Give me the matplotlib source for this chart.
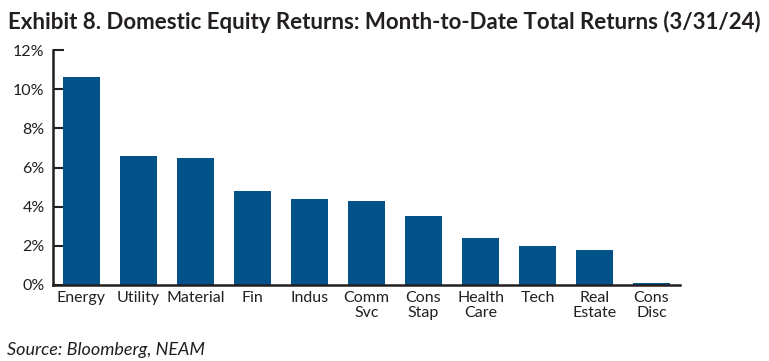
import matplotlib
matplotlib.use("Agg")
import matplotlib.pyplot as plt
from matplotlib.ticker import PercentFormatter

# ── Data ─────────────────────────────────────────────────────────────────────
sectors = ["Energy", "Utility", "Material", "Fin", "Indus", "Comm\nSvc",
           "Cons\nStap", "Health\nCare", "Tech", "Real\nEstate", "Cons\nDisc"]
mtd_return = [10.6, 6.6, 6.5, 4.8, 4.4, 4.3, 3.5, 2.4, 2.0, 1.8, 0.1]
yticks = [0, 2, 4, 6, 8, 10, 12]

BAR = "#04528A"
INK = "#231F20"

plt.rcParams["font.family"] = ["Lato", "DejaVu Sans"]

fig = plt.figure(figsize=(7.69, 3.61), dpi=100)
ax = fig.add_axes([53 / 769, 1 - 285 / 361, (680 - 53) / 769, (285 - 50) / 361])

x = range(len(sectors))
ax.bar(x, mtd_return, width=0.65, color=BAR, zorder=2)

ax.set_xlim(-0.5, 10.5)
ax.set_ylim(0, 12)
ax.set_yticks(yticks)
ax.yaxis.set_major_formatter(PercentFormatter(decimals=0))
ax.set_xticks(list(x))
ax.set_xticklabels(sectors, fontsize=11.5, color=INK, linespacing=1.1)
ax.tick_params(axis="y", direction="in", length=8, width=1.5, color=INK,
               labelsize=11.5, labelcolor=INK, pad=6)
ax.tick_params(axis="x", length=0, pad=4)

for side in ("top", "right"):
    ax.spines[side].set_visible(False)
for side in ("left", "bottom"):
    ax.spines[side].set_linewidth(1.8)
    ax.spines[side].set_color(INK)

fig.text(8 / 769, 1 - 22 / 361,
         "Exhibit 8. Domestic Equity Returns: Month-to-Date Total Returns (3/31/24)",
         fontsize=16, fontweight="bold", color=INK, va="center", ha="left")
fig.text(7 / 769, 1 - 350 / 361, "Source: Bloomberg, NEAM",
         fontsize=13, style="italic", color=INK, va="center", ha="left")

fig.savefig("out.png", dpi=100)
